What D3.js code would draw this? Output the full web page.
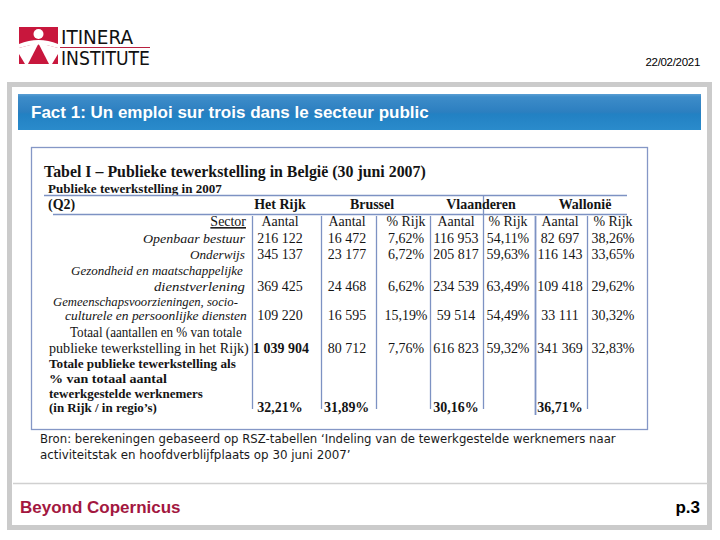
<!DOCTYPE html>
<html><head><meta charset="utf-8">
<script src="https://cdn.jsdelivr.net/npm/d3@7"></script>
<style>html,body{margin:0;padding:0;background:#fff;}svg{display:block;}</style>
</head><body>
<script>
// ---------- data ----------
const slideTitle = "Fact 1: Un emploi sur trois dans le secteur public";
const tableTitle = "Tabel I – Publieke tewerkstelling in België (30 juni 2007)";
const regions = ["Het Rijk", "Brussel", "Vlaanderen", "Wallonië"];
const sectorLabels = [
  ["Openbaar bestuur"],
  ["Onderwijs"],
  ["Gezondheid en maatschappelijke", "dienstverlening"],
  ["Gemeenschapsvoorzieningen, socio-", "culturele en persoonlijke diensten"]
];
const totalLabel = ["Totaal (aantallen en % van totale", "publieke tewerkstelling in het Rijk)"];
const shareLabel = ["Totale publieke tewerkstelling als", "% van totaal aantal", "tewerkgestelde werknemers", "(in Rijk / in regio’s)"];
const rijkCount = [216122, 345137, 369425, 109220];
const brusselCount = [16472, 23177, 24468, 16595];
const brusselPct = [7.62, 6.72, 6.62, 15.19];
const vlaanderenCount = [116953, 205817, 234539, 59514];
const vlaanderenPct = [54.11, 59.63, 63.49, 54.49];
const wallonieCount = [82697, 116143, 109418, 33111];
const walloniePct = [38.26, 33.65, 29.62, 30.32];
const totalCount = [1039904, 80712, 616823, 341369];
const totalPct = [7.76, 59.32, 32.83];
const publicShare = [32.21, 31.89, 30.16, 36.71];
const sourceLines = [
  "Bron: berekeningen gebaseerd op RSZ-tabellen ‘Indeling van de tewerkgestelde werknemers naar",
  "activiteitstak en hoofdverblijfplaats op 30 juni 2007’"
];

// ---------- layout (widths of the scanned lines) ----------
const sectorW = [[102], [55], [172, 91], [185, 182]];
const totalW = [172, 200];
const shareW = [187, 118, 154, 108];

// ---------- helpers ----------
const loc = d3.formatLocale({decimal: ",", thousands: " ", grouping: [3], currency: ["", ""]});
const fmtN = loc.format(",d");
const fmtP = v => loc.format(".2f")(v) + "%";
// horizontally scale text (via transform) to a target width, or by a factor
function scaleText(sel, widthOrFn) {
  return sel.each(function () {
    const t = d3.select(this);
    const x0 = +t.attr("x"), y0 = +t.attr("y");
    const L = this.getComputedTextLength();
    const w = typeof widthOrFn === "function" ? widthOrFn(L) : widthOrFn;
    t.attr("x", 0).attr("y", 0).attr("transform", `translate(${x0},${y0}) scale(${w / L},1)`);
  });
}
const fit = (sel, w) => scaleText(sel, w);
const squeeze = (sel, f) => scaleText(sel, L => L * f);

const W = 720, H = 540;
const svg = d3.select("body").append("svg").attr("width", W).attr("height", H);
const defs = svg.append("defs");
const g1 = defs.append("linearGradient").attr("id", "bar").attr("x1", 0).attr("y1", 0).attr("x2", 0).attr("y2", 1);
[[0, "#5a9fd4"], [0.08, "#3d8cc9"], [0.5, "#2c7fc0"], [0.56, "#2281c3"], [1, "#2a8bcb"]]
  .forEach(([o, c]) => g1.append("stop").attr("offset", o).attr("stop-color", c));

svg.append("rect").attr("width", W).attr("height", H).attr("fill", "#fff");

// ---------- logo ----------
const logo = svg.append("g");
const red = "#c8173d";
logo.append("rect").attr("x", 19).attr("y", 27).attr("width", 39).attr("height", 37).attr("fill", red);
logo.append("circle").attr("cx", 38.5).attr("cy", 34).attr("r", 5).attr("fill", "#fff");
logo.append("path").attr("d", "M19,44 Q38.5,36 58,44 L58,48 Q38.5,41 19,48 Z").attr("fill", "#fff");
logo.append("path").attr("d", "M19,48 Q30,44.5 38.5,43.5 L28,64 L19,64 Z").attr("fill", "#fff");
logo.append("path").attr("d", "M58,48 Q47,44.5 38.5,43.5 L49,64 L58,64 Z").attr("fill", "#fff");
logo.append("path").attr("d", "M19,54 L25,64 L19,64 Z").attr("fill", red);
logo.append("path").attr("d", "M58,54 L52,64 L58,64 Z").attr("fill", red);
fit(logo.append("text").attr("x", 61).attr("y", 44).attr("font-family", "DejaVu Sans Condensed, DejaVu Sans")
  .attr("font-size", 19.5).attr("fill", "#111").text("ITINERA"), 72);
logo.append("line").attr("x1", 60).attr("x2", 150).attr("y1", 47.5).attr("y2", 47.5).attr("stroke", "#b8203f").attr("stroke-width", 1);
fit(logo.append("text").attr("x", 61).attr("y", 65).attr("font-family", "DejaVu Sans Condensed, DejaVu Sans")
  .attr("font-size", 19.5).attr("fill", "#111").text("INSTITUTE"), 89);

svg.append("text").attr("x", 700).attr("y", 66).attr("text-anchor", "end")
  .attr("font-family", "Liberation Sans, Arial").attr("font-size", 11.5).attr("letter-spacing", -0.3).attr("fill", "#000").text("22/02/2021");

// ---------- frame ----------
svg.append("rect").attr("x", 9.5).attr("y", 84.5).attr("width", 700).attr("height", 443)
  .attr("fill", "none").attr("stroke", "#cbcbcb").attr("stroke-width", 5);
svg.append("rect").attr("x", 18).attr("y", 94).attr("width", 683).attr("height", 36).attr("fill", "url(#bar)");
svg.append("text").attr("x", 31).attr("y", 118).attr("font-family", "Liberation Sans, Arial").attr("font-weight", "bold")
  .attr("font-size", 17).attr("fill", "#fff").text(slideTitle);

// ---------- table ----------
const T = svg.append("g");
const lineCol = "#7d92c3";
const ink = "#141414";
const SQ = 0.9;      // horizontal squeeze of the scanned table
const VF = 15.5;     // value font size
T.append("rect").attr("x", 31.5).attr("y", 147.5).attr("width", 616).attr("height", 282)
  .attr("fill", "#fff").attr("stroke", "#8597c6").attr("stroke-width", 1.3);

const serif = "Liberation Serif, Times New Roman, serif";
fit(T.append("text").attr("x", 44).attr("y", 177).attr("font-family", serif).attr("font-weight", "bold")
  .attr("font-size", 17.5).attr("fill", ink).text(tableTitle), 382);
fit(T.append("text").attr("x", 48).attr("y", 193).attr("font-family", serif).attr("font-weight", "bold")
  .attr("font-size", 13.5).attr("fill", ink).text("Publieke tewerkstelling in 2007"), 174);
squeeze(T.append("text").attr("x", 48).attr("y", 209).attr("font-family", serif).attr("font-weight", "bold")
  .attr("font-size", 15.5).attr("fill", ink).text("(Q2)"), SQ);

T.append("line").attr("x1", 44).attr("x2", 627).attr("y1", 195.5).attr("y2", 195.5).attr("stroke", lineCol).attr("stroke-width", 1.5);
T.append("line").attr("x1", 53).attr("x2", 627).attr("y1", 214.5).attr("y2", 214.5).attr("stroke", lineCol).attr("stroke-width", 1.5);

// column scale
const cols = ["rijk", "bruN", "bruP", "vlaN", "vlaP", "walN", "walP"];
const x = d3.scaleOrdinal().domain(cols).range([280, 347, 406, 456, 508, 560, 613]);
const regionX = d3.scaleOrdinal().domain(regions).range([280, 372, 481, 585]);
const sepX = [252, 321, 376, 430, 483, 535, 587];

T.selectAll("line.vsep").data(sepX).join("line").attr("class", "vsep")
  .attr("x1", d => d + 0.5).attr("x2", d => d + 0.5)
  .attr("y1", d => d === 483 ? 196 : 216).attr("y2", d => d === 535 ? 415 : 409)
  .attr("stroke", lineCol).attr("stroke-width", d => d === 535 ? 1.8 : 1.3);

squeeze(T.selectAll("text.reg").data(regions).join("text").attr("class", "reg")
  .attr("x", d => regionX(d)).attr("y", 209).attr("text-anchor", "middle")
  .attr("font-family", serif).attr("font-weight", "bold").attr("font-size", 15.5).attr("fill", ink).text(d => d), SQ);

// sub-header
const subHead = ["Aantal", "Aantal", "% Rijk", "Aantal", "% Rijk", "Aantal", "% Rijk"];
squeeze(T.selectAll("text.sub").data(cols).join("text").attr("class", "sub")
  .attr("x", d => x(d)).attr("y", 226).attr("text-anchor", "middle")
  .attr("font-family", serif).attr("font-size", VF).attr("fill", ink).text((d, i) => subHead[i]), SQ);
squeeze(T.append("text").attr("x", 246).attr("y", 226).attr("text-anchor", "end").attr("font-family", serif)
  .attr("font-size", VF).attr("text-decoration", "underline").attr("fill", ink).text("Sector"), SQ);

// rows
const rowBase = [243, 259, 291, 320];
const rightEdge = [[245], [245], [243, 245], [238, 247]];
const lineGap = [[0], [0], [16, 0], [14.5, 0]];
sectorLabels.forEach((lines, i) => {
  lines.forEach((l, j) => {
    const w = sectorW[i][j];
    fit(T.append("text").attr("x", rightEdge[i][j] - w).attr("y", rowBase[i] - lineGap[i][j])
      .attr("font-family", serif).attr("font-style", "italic")
      .attr("font-size", 13.5).attr("fill", ink).text(l), w);
  });
  const vals = [fmtN(rijkCount[i]), fmtN(brusselCount[i]), fmtP(brusselPct[i]), fmtN(vlaanderenCount[i]),
                fmtP(vlaanderenPct[i]), fmtN(wallonieCount[i]), fmtP(walloniePct[i])];
  squeeze(T.selectAll(null).data(cols).join("text")
    .attr("x", d => x(d)).attr("y", rowBase[i]).attr("text-anchor", "middle")
    .attr("font-family", serif).attr("font-size", VF).attr("fill", ink).text((d, k) => vals[k]), SQ);
});

// total row
const totalLeft = [70, 49];
totalLabel.forEach((l, j) => {
  fit(T.append("text").attr("x", totalLeft[j]).attr("y", 353 - (1 - j) * 16.5)
    .attr("font-family", serif).attr("font-size", 14).attr("fill", ink).text(l), totalW[j]);
});
const totVals = [fmtN(totalCount[0]), fmtN(totalCount[1]), fmtP(totalPct[0]), fmtN(totalCount[2]),
                 fmtP(totalPct[1]), fmtN(totalCount[3]), fmtP(totalPct[2])];
squeeze(T.selectAll(null).data(cols).join("text")
  .attr("x", d => x(d) + (d === "rijk" ? 1 : 0)).attr("y", 353).attr("text-anchor", "middle")
  .attr("font-family", serif).attr("font-size", VF).attr("font-weight", (d, k) => k === 0 ? "bold" : "normal")
  .attr("fill", ink).text((d, k) => totVals[k]), SQ);

// share row
const shareBase = [368, 383, 397.5, 411.5];
shareLabel.forEach((l, j) => {
  fit(T.append("text").attr("x", 49).attr("y", shareBase[j]).attr("font-family", serif).attr("font-weight", "bold")
    .attr("font-size", 13.5).attr("fill", ink).text(l), shareW[j]);
});
const shareCols = ["rijk", "bruN", "vlaN", "walN"];
squeeze(T.selectAll(null).data(shareCols).join("text")
  .attr("x", d => d === "bruN" ? 324 : x(d)).attr("y", 411.5).attr("text-anchor", d => d === "bruN" ? "start" : "middle")
  .attr("font-family", serif).attr("font-weight", "bold").attr("font-size", VF).attr("fill", ink)
  .text((d, i) => fmtP(publicShare[i])), SQ);

// source
const srcW = [576, 311];
sourceLines.forEach((l, i) => {
  fit(svg.append("text").attr("x", 40).attr("y", 443 + i * 16).attr("font-family", "DejaVu Sans, sans-serif")
    .attr("font-size", 13).attr("fill", "#1a1a1a").text(l), srcW[i]);
});

// footer
svg.append("line").attr("x1", 13).attr("x2", 708).attr("y1", 483.5).attr("y2", 483.5).attr("stroke", "#d0d0d0").attr("stroke-width", 1.5);
svg.append("text").attr("x", 20).attr("y", 513).attr("font-family", "Liberation Sans, Arial").attr("font-weight", "bold")
  .attr("font-size", 17).attr("fill", "#a3173f").text("Beyond Copernicus");
svg.append("text").attr("x", 700).attr("y", 513).attr("text-anchor", "end").attr("font-family", "Liberation Sans, Arial")
  .attr("font-weight", "bold").attr("font-size", 17).attr("fill", "#000").text("p.3");
</script>
</body></html>
